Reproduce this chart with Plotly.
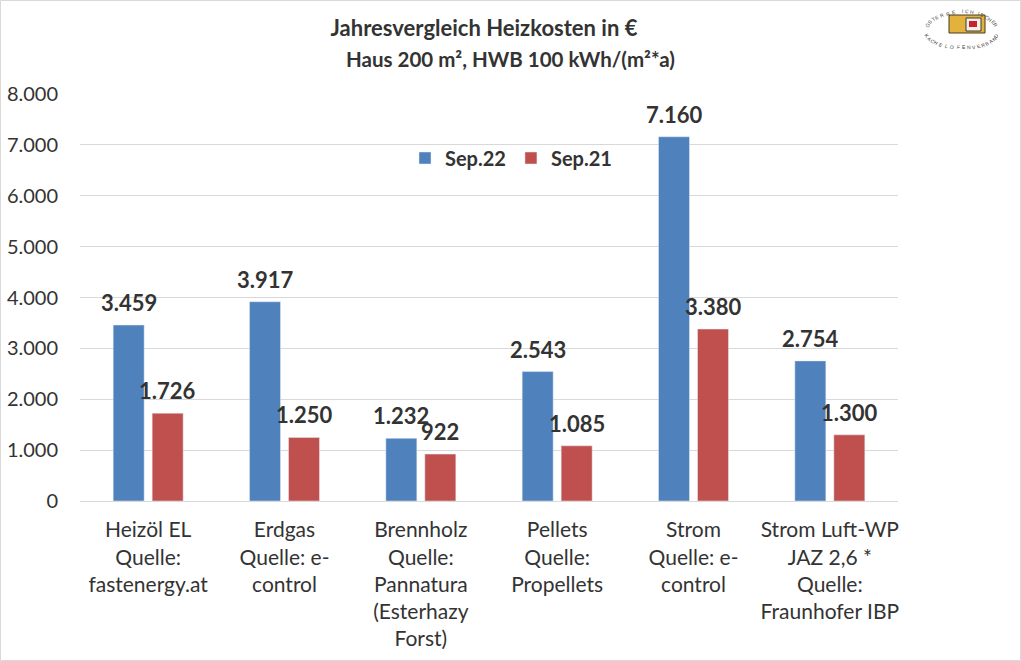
import math
import plotly.graph_objects as go

categories = ["Heizöl EL<br>Quelle:<br>fastenergy.at", "Erdgas<br>Quelle: e-<br>control",
              "Brennholz<br>Quelle:<br>Pannatura<br>(Esterhazy<br>Forst)", "Pellets<br>Quelle:<br>Propellets",
              "Strom<br>Quelle: e-<br>control", "Strom Luft-WP<br>JAZ 2,6 *<br>Quelle:<br>Fraunhofer IBP"]
sep22 = [3459, 3917, 1232, 2543, 7160, 2754]
sep21 = [1726, 1250, 922, 1085, 3380, 1300]
y_ticks = [0, 1000, 2000, 3000, 4000, 5000, 6000, 7000, 8000]

FONT = "Lato"
DARK = "#333333"
W, H = 1021, 661
L, R, T, B = 80, 898, 94, 501  # Plotbereich in Pixeln


def de(v):
    return f"{v:,}".replace(",", ".")


# paper-Koordinaten beziehen sich auf den Plotbereich
def px(x):
    return (x - L) / (R - L)


def py(y):
    return (B - y) / (B - T)


fig = go.Figure()
fig.add_trace(go.Bar(x=categories, y=sep22, name="<b>Sep.22</b>", marker_color="#4F81BD"))
fig.add_trace(go.Bar(x=categories, y=sep21, name="<b>Sep.21</b>", marker_color="#C0504D"))

annotations = []
# Datenbeschriftungen
for i, cat in enumerate(categories):
    annotations.append(dict(x=cat, y=sep22[i], text=f"<b>{de(sep22[i])}</b>", showarrow=False,
                            xshift=-19.5, yshift=7, yanchor="bottom",
                            font=dict(family=FONT, size=22, color=DARK)))
    annotations.append(dict(x=cat, y=sep21[i], text=f"<b>{de(sep21[i])}</b>", showarrow=False,
                            xshift=19.5, yshift=7, yanchor="bottom",
                            font=dict(family=FONT, size=22, color=DARK)))

annotations.append(dict(xref="paper", yref="paper", x=px(510), y=py(59), yanchor="middle", showarrow=False,
                        text="<b>Haus 200 m², HWB 100 kWh/(m²*a)</b>",
                        font=dict(family=FONT, size=20.5, color=DARK)))

# Rahmen und Logo oben rechts
shapes = [
    dict(type="rect", xref="paper", yref="paper", x0=px(0.5), x1=px(1020.5), y0=py(660.5), y1=py(0.5),
         line=dict(color="#D9D9D9", width=1)),
    dict(type="rect", xref="paper", yref="paper", x0=px(949), x1=px(985), y0=py(33), y1=py(15),
         fillcolor="#E3B23C", line=dict(color="#4A3A1A", width=1)),
    dict(type="rect", xref="paper", yref="paper", x0=px(966), x1=px(981), y0=py(31), y1=py(18),
         fillcolor="#F4F0E6", line=dict(color="#3A3A3A", width=1)),
    dict(type="rect", xref="paper", yref="paper", x0=px(969), x1=px(977), y0=py(27), y1=py(21),
         fillcolor="#C8202C", line=dict(width=0)),
]
for word, top in (("ÖSTERREICHISCHER", True), ("KACHELOFENVERBAND", False)):
    n = len(word)
    for j, ch in enumerate(word):
        a = math.radians(-72 + 144 * j / (n - 1))
        if top:
            lx, ly, rot = 968 + 36 * math.sin(a), 24 - 18 * math.cos(a), math.degrees(a) * 0.75
        else:
            lx, ly, rot = 968 + 36 * math.sin(a), 24 + 18 * math.cos(a), -math.degrees(a) * 0.75
        annotations.append(dict(xref="paper", yref="paper", x=px(lx), y=py(ly), text=ch, showarrow=False,
                                textangle=rot, font=dict(family="Liberation Sans", size=5, color="#444444")))

fig.update_layout(
    width=W, height=H,
    margin=dict(l=L, r=W - R, t=T, b=H - B, autoexpand=False),
    paper_bgcolor="white", plot_bgcolor="white",
    barmode="group", bargap=0.428, bargroupgap=0.205,
    title=dict(text="<b>Jahresvergleich Heizkosten in €</b>", x=484 / W, xanchor="center", y=1 - 28 / H, yanchor="middle",
               font=dict(family=FONT, size=22, color=DARK)),
    legend=dict(orientation="h", x=px(405), y=py(158), xanchor="left", yanchor="middle",
                font=dict(family=FONT, size=20, color=DARK), bgcolor="rgba(0,0,0,0)"),
    annotations=annotations, shapes=shapes,
)
fig.update_xaxes(showline=True, linecolor="#D9D9D9", ticks="", tickfont=dict(family=FONT, size=21, color=DARK),
                 tickangle=0, ticklabelstandoff=10)
fig.update_yaxes(range=[0, 8000], tickvals=y_ticks, ticktext=[de(v) for v in y_ticks], gridcolor="#D9D9D9",
                 zeroline=False, showline=False, ticks="", tickfont=dict(family=FONT, size=20, color=DARK),
                 ticklabelstandoff=21)

fig.write_html("out.html", config={"displayModeBar": False},
               post_script="document.body.style.margin='0';window.dispatchEvent(new Event('resize'));")
